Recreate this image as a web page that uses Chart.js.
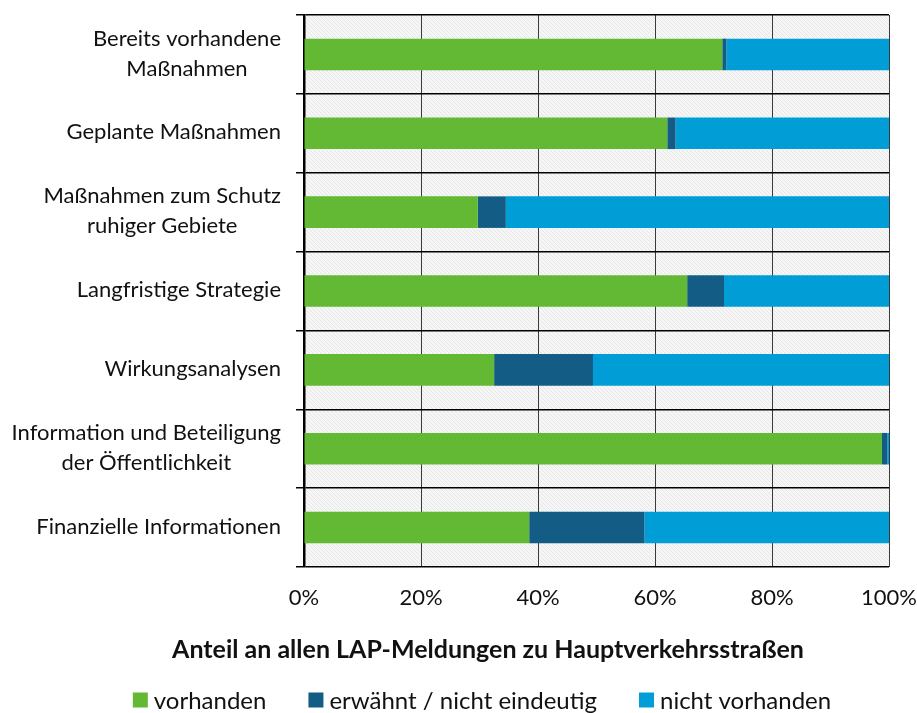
<!DOCTYPE html>
<html>
<head>
<meta charset="utf-8">
<script src="https://cdn.jsdelivr.net/npm/chart.js@4.4.1/dist/chart.umd.min.js"></script>
<style>
  body { margin: 0; background: #fff; }
</style>
</head>
<body>
<canvas id="chart" width="917" height="713"></canvas>
<script>
// Kategorien (Maßnahmen in den LAP-Meldungen)
const categories = [
  ['Bereits vorhandene', 'Maßnahmen'],
  'Geplante Maßnahmen',
  ['Maßnahmen zum Schutz', 'ruhiger Gebiete'],
  'Langfristige Strategie',
  'Wirkungsanalysen',
  ['Information und Beteiligung', 'der Öffentlichkeit'],
  'Finanzielle Informationen'
];

// Anteile in Prozent
const vorhanden = [71.5, 62.1, 29.7, 65.5, 32.5, 98.8, 38.5];
const erwaehnt = [0.7, 1.4, 4.8, 6.3, 16.9, 0.9, 19.7];
const nichtVorhanden = [27.8, 36.5, 65.5, 28.2, 50.6, 0.3, 41.8];

const seriesNames = ['vorhanden', 'erwähnt / nicht eindeutig', 'nicht vorhanden'];
const seriesColors = ['#63b933', '#135c85', '#009dd6'];
const xTicks = [0, 20, 40, 60, 80, 100];
const axisTitle = 'Anteil an allen LAP-Meldungen zu Hauptverkehrsstraßen';

const FONT = 'Lato, "Open Sans", sans-serif';

// fein schraffierter Hintergrund der Zeichenfläche
function makeHatch() {
  const c = document.createElement('canvas');
  c.width = 4;
  c.height = 4;
  const g = c.getContext('2d');
  g.fillStyle = '#f6f6f6';
  g.fillRect(0, 0, 4, 4);
  g.strokeStyle = '#e6e6e6';
  g.lineWidth = 1;
  g.beginPath();
  g.moveTo(0, 0);
  g.lineTo(4, 4);
  g.stroke();
  return g.createPattern(c, 'repeat');
}

const hatchBackground = {
  id: 'hatchBackground',
  beforeDraw(chart) {
    const { ctx, chartArea } = chart;
    ctx.save();
    ctx.fillStyle = makeHatch();
    ctx.fillRect(chartArea.left, chartArea.top, chartArea.right - chartArea.left, chartArea.bottom - chartArea.top);
    ctx.restore();
  }
};

// Kategorienbeschriftung: Block rechtsbündig, Zeilen zentriert
const centeredLabels = {
  id: 'centeredLabels',
  afterDraw(chart) {
    const { ctx } = chart;
    const yScale = chart.scales.y;
    const right = yScale.right - 8 - 15;
    ctx.save();
    ctx.font = '22px ' + FONT;
    ctx.fillStyle = '#111';
    ctx.textAlign = 'center';
    ctx.textBaseline = 'middle';
    const lineHeight = 30;
    categories.forEach((label, i) => {
      const lines = Array.isArray(label) ? label : [label];
      const blockWidth = Math.max(...lines.map(l => ctx.measureText(l).width));
      const cx = right - blockWidth / 2;
      const cy = yScale.getPixelForTick(i) - 1;
      lines.forEach((line, j) => {
        const y = cy + (j - (lines.length - 1) / 2) * lineHeight;
        ctx.fillText(line, cx, y);
      });
    });
    ctx.restore();
  }
};

// Achsentitel und Legende unter dem Diagramm
const titleAndLegend = {
  id: 'titleAndLegend',
  afterDraw(chart) {
    const { ctx } = chart;
    ctx.save();
    ctx.fillStyle = '#111';
    ctx.textBaseline = 'middle';
    ctx.textAlign = 'center';
    ctx.font = 'bold 25px ' + FONT;
    ctx.fillText(axisTitle, 488, 650);

    ctx.font = '24px ' + FONT;
    ctx.textAlign = 'left';
    const box = 15, gap = 6, itemGap = 42;
    const widths = seriesNames.map(n => ctx.measureText(n).width);
    const total = widths.reduce((a, w) => a + box + gap + w, 0) + itemGap * (seriesNames.length - 1);
    let x = 482 - total / 2;
    const y = 700;
    seriesNames.forEach((name, i) => {
      ctx.fillStyle = seriesColors[i];
      ctx.fillRect(x, y - box / 2, box, box);
      ctx.fillStyle = '#111';
      ctx.fillText(name, x + box + gap, y + 1);
      x += box + gap + widths[i] + itemGap;
    });
    ctx.restore();
  }
};

const chart = new Chart(document.getElementById('chart'), {
  type: 'bar',
  data: {
    labels: categories,
    datasets: seriesNames.map((name, i) => ({
      label: name,
      data: [vorhanden, erwaehnt, nichtVorhanden][i],
      backgroundColor: seriesColors[i]
    }))
  },
  options: {
    indexAxis: 'y',
    responsive: false,
    animation: false,
    maintainAspectRatio: false,
    datasets: {
      bar: { categoryPercentage: 1, barPercentage: 0.4 }
    },
    layout: { padding: { top: 13, left: 8, right: 28, bottom: 0 } },
    scales: {
      x: {
        stacked: true,
        min: 0,
        max: 100,
        afterBuildTicks(scale) {
          scale.ticks = xTicks.map(v => ({ value: v }));
        },
        afterFit(scale) {
          scale.height = 146;
          scale.paddingLeft = 0;
          scale.paddingRight = 0;
        },
        ticks: {
          callback: v => v + '%',
          font: { family: FONT, size: 22 },
          color: '#111',
          padding: 18,
          maxRotation: 0
        },
        grid: { color: '#3a3a3a', lineWidth: 1, drawTicks: false },
        border: { display: false }
      },
      y: {
        stacked: true,
        afterFit(scale) { scale.width = 296; },
        ticks: {
          color: 'transparent',
          font: { family: FONT, size: 20 }
        },
        grid: { color: '#000', lineWidth: 1.5, tickLength: 8, offset: true },
        border: { color: '#000', width: 2.5 }
      }
    },
    plugins: {
      legend: { display: false },
      tooltip: { enabled: false }
    }
  },
  plugins: [hatchBackground, centeredLabels, titleAndLegend]
});
</script>
</body>
</html>
